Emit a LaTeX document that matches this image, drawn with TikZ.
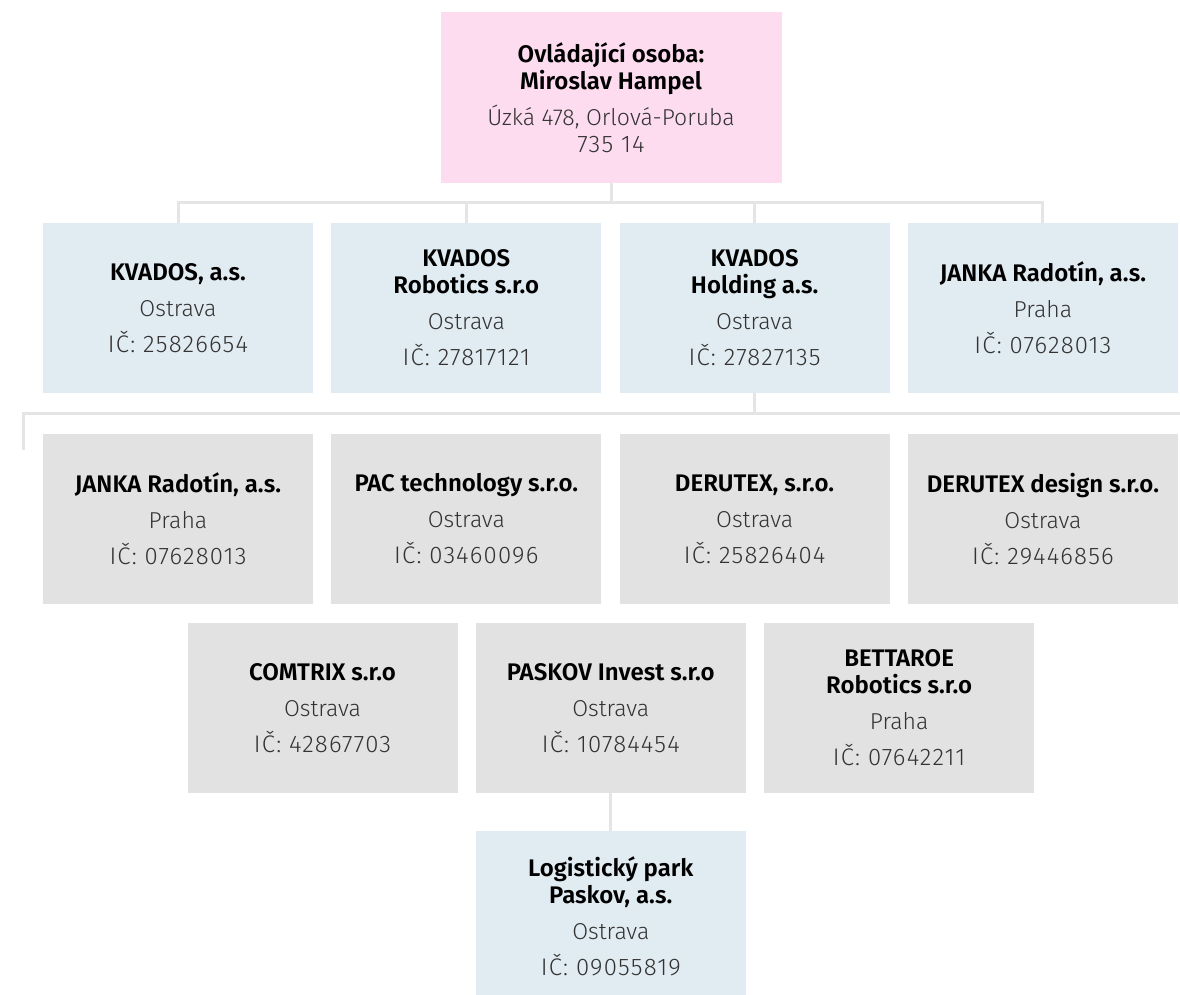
\documentclass[tikz,border=0pt]{standalone}
\usepackage{fontspec}
\setmainfont{Fira Sans}[UprightFont={Fira Sans Light},BoldFont={Fira Sans SemiBold}]
\newfontfamily\icfont{Fira Sans Light}[LetterSpace=5,Scale=1.043]
\usepackage{xcolor}
\usetikzlibrary{positioning}

\definecolor{ownerpink}{HTML}{FDDCEF}
\definecolor{firmblue}{HTML}{E1EBF2}
\definecolor{firmgray}{HTML}{E2E2E2}
\definecolor{linkgray}{HTML}{E5E5E5}
\definecolor{textgray}{HTML}{333333}
\newcommand{\firmname}[1]{{\bfseries\color{black}\fontsize{24}{27}\selectfont #1}}

\begin{document}
\begin{tikzpicture}[auto,
    every node/.style={on grid,node distance=288.3pt},
    firm/.style={minimum width=270pt,minimum height=170pt,inner sep=0pt,
      align=center,text=textgray,font=\fontsize{23}{36}\selectfont},
    blue/.style={firm,fill=firmblue},
    gray/.style={firm,fill=firmgray},
    link/.style={draw=linkgray,line width=3pt}]
  \useasboundingbox (0,0) rectangle (1180pt,-995pt);
  % ovladajici osoba
  \node[firm,fill=ownerpink,minimum width=341pt,minimum height=171pt] (owner) at (611pt,-97.5pt)
    {\firmname{Ovládající osoba:}\\[-9pt]\firmname{Miroslav Hampel}\\Úzká 478, Orlová-Poruba\\[-9pt]{\icfont 735 14}};
  % prvni rada
  \node[blue] (kvados) at (178pt,-308pt) {\firmname{KVADOS, a.s.}\\Ostrava\\{\icfont IČ: 25826654}};
  \node[blue,right of=kvados] (robotics) {\firmname{KVADOS}\\[-9pt]\firmname{Robotics s.r.o}\\Ostrava\\{\icfont IČ: 27817121}};
  \node[blue,right of=robotics] (holding) {\firmname{KVADOS}\\[-9pt]\firmname{Holding a.s.}\\Ostrava\\{\icfont IČ: 27827135}};
  \node[blue,right of=holding] (janka) {\firmname{JANKA Radotín, a.s.}\\Praha\\{\icfont IČ: 07628013}};
  % druha rada
  \node[gray,below of=kvados,node distance=211pt] (janka2) {\firmname{JANKA Radotín, a.s.}\\Praha\\{\icfont IČ: 07628013}};
  \node[gray,right of=janka2] (pac) {\firmname{PAC technology s.r.o.}\\Ostrava\\{\icfont IČ: 03460096}};
  \node[gray,right of=pac] (derutex) {\firmname{DERUTEX, s.r.o.}\\Ostrava\\{\icfont IČ: 25826404}};
  \node[gray,right of=derutex] (design) {\firmname{DERUTEX design s.r.o.}\\Ostrava\\{\icfont IČ: 29446856}};
  % treti rada
  \node[gray] (comtrix) at (322.5pt,-708pt) {\firmname{COMTRIX s.r.o}\\Ostrava\\{\icfont IČ: 42867703}};
  \node[gray,right of=comtrix] (paskov) {\firmname{PASKOV Invest s.r.o}\\Ostrava\\{\icfont IČ: 10784454}};
  \node[gray,right of=paskov] (bettaroe) {\firmname{BETTAROE}\\[-9pt]\firmname{Robotics s.r.o}\\Praha\\{\icfont IČ: 07642211}};
  % ctvrta rada
  \node[blue,below of=paskov,node distance=208pt] (park) {\firmname{Logistický park}\\[-9pt]\firmname{Paskov, a.s.}\\Ostrava\\{\icfont IČ: 09055819}};
  % spojnice
  \coordinate (topbus) at (0,-203pt);
  \coordinate (midleft) at (23pt,-450pt);
  \coordinate (midright) at (1182pt,-413pt);
  \draw[link] (owner.south) -- (owner.south |- topbus);
  \draw[link] (kvados.north) |- (janka.north |- topbus) -- (janka.north);
  \draw[link] (robotics.north) -- (robotics.north |- topbus);
  \draw[link] (holding.north) -- (holding.north |- topbus);
  \draw[link] (holding.south) -- (holding.south |- midright);
  \draw[link] (midleft) |- (midright);
  \draw[link] (paskov.south) -- (park.north);
\end{tikzpicture}
\end{document}
